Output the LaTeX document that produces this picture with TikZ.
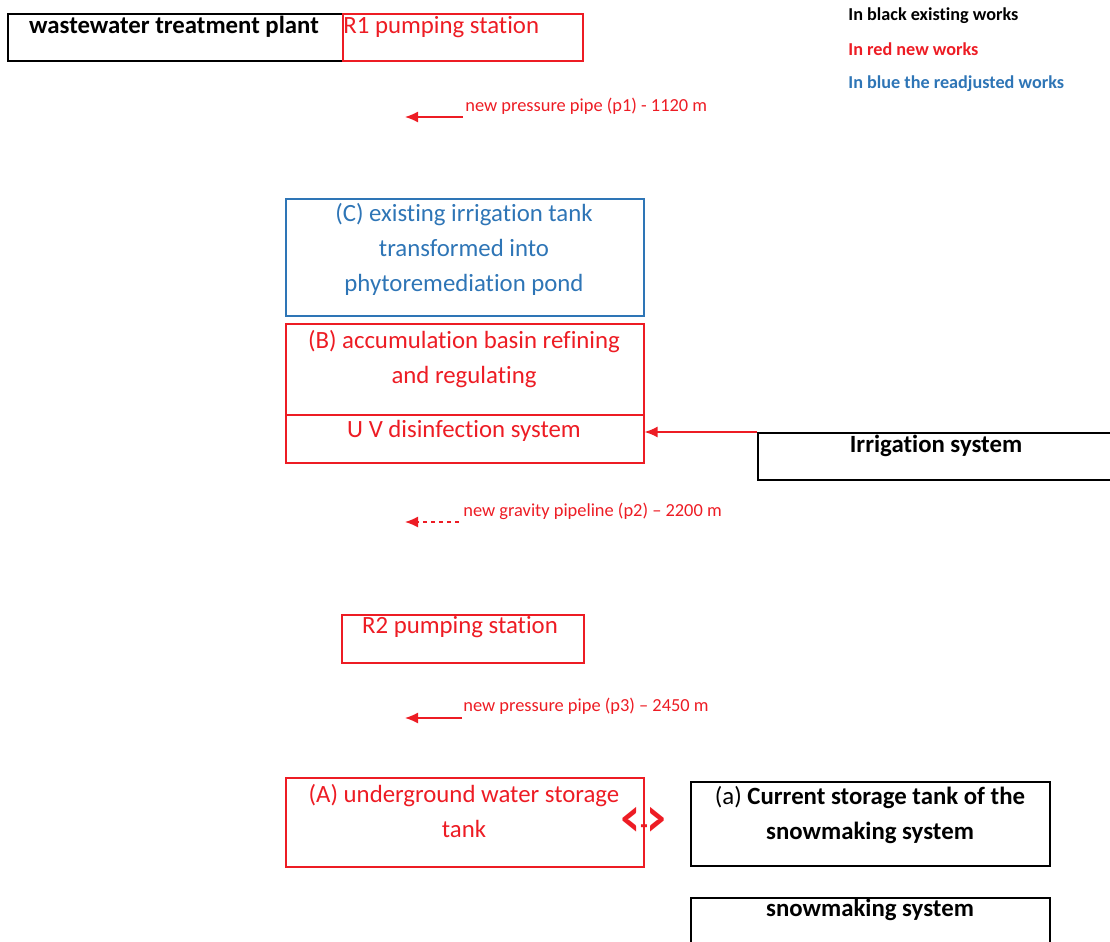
\documentclass[tikz,border=0pt]{standalone}
\usepackage{fontspec}
\setmainfont[Ligatures=NoCommon]{Carlito}
\usetikzlibrary{arrows.meta,positioning}
\definecolor{newred}{RGB}{237,28,36}
\definecolor{adjblue}{RGB}{46,117,182}
\tikzset{
  >={Latex[length=6.5pt,width=5.5pt]},
  box/.style={draw=#1, line width=0.8pt, minimum height=23.5pt, anchor=north west, inner sep=0pt},
  boxtext/.style={font=\fontsize{12.4}{17.4}\selectfont, align=center, anchor=base, inner sep=0pt},
  pipelabel/.style={font=\fontsize{9.2}{11}\selectfont, text=newred, anchor=base west, inner sep=0pt},
  legend/.style={font=\fontsize{9.1}{11}\selectfont\bfseries, anchor=base west, inner sep=0pt},
  pipe/.style={newred, line width=0.7pt, ->},
}

\begin{document}
\begin{tikzpicture}[x=0.5pt, y=-0.5pt]
\useasboundingbox (0,0) rectangle (1110,942);

% boxes
\node[box=black, minimum width=167.5pt] (wwtp) at (7,13) {};
\node[box=newred, minimum width=120pt] (r1) at (342,13) {};
\node[box=adjblue, minimum width=179pt, minimum height=58.5pt] (tankC) at (285,198) {};
\node[box=newred, minimum width=179pt, minimum height=45.5pt] (basinB) at (285,323) {};
\node[box=newred, minimum width=179pt, minimum height=24pt] (uvsys) at (285,414) {};
\node[box=black, minimum width=176.5pt] (irrig) at (757,432) {};
\node[box=newred, minimum width=121pt, minimum height=24pt] (r2) at (341,614) {};
\node[box=newred, minimum width=179pt, minimum height=44.5pt] (tankA) at (285,777) {};
\node[box=black, minimum width=179.5pt, minimum height=42pt] (snowtank) at (690,781) {};
\node[box=black, minimum width=179.5pt, minimum height=26pt] (snowsys) at (690,897) {};

% texts in the boxes (multi-line ones sit on their last line)
\node[boxtext, font=\fontsize{12.4}{17.4}\selectfont\bfseries] (wwtptxt) at (174,33) {wastewater treatment plant};
\node[boxtext, text=newred, anchor=base west] (r1txt) at (343,33) {R1 pumping station};
\node[boxtext, text=adjblue] (tankCtxt) at (464,291) {(C) existing irrigation tank\\ transformed into\\ phytoremediation pond};
\node[boxtext, text=newred] (basinBtxt) at (464,383) {(B) accumulation basin refining\\ and regulating};
\node[boxtext, text=newred] (uvtxt) at (464,437) {U V disinfection system};
\node[boxtext, font=\fontsize{12.4}{17.4}\selectfont\bfseries] (irrigtxt) at (936,452) {Irrigation system};
\node[boxtext, text=newred] (r2txt) at (460,633) {R2 pumping station};
\node[boxtext, text=newred] (tankAtxt) at (464,837) {(A) underground water storage\\ tank};
\node[boxtext] (snowtanktxt) at (870,839) {(a) \textbf{Current storage tank of the}\\ \textbf{snowmaking system}};
\node[boxtext, font=\fontsize{12.4}{17.4}\selectfont\bfseries] (snowsystxt) at (870,916) {snowmaking system};
\node[text=newred, inner sep=0pt, font=\fontsize{28}{30}\selectfont\bfseries, xscale=0.65, transform shape] (swap) at (644,822) {<{\mdseries\fontsize{20}{22}\selectfont -}>};

% legend
\node[legend] (legblack) at (848,20) {In black existing works};
\node[legend, text=newred] (legred) at (848,55) {In red new works};
\node[legend, text=adjblue] (legblue) at (848,89) {In blue the readjusted works};

% pipes
\node[pipelabel] (p1lbl) at (465,112) {new pressure pipe (p1) - 1120 m};
\node[pipelabel] (p2lbl) at (463,516) {new gravity pipeline (p2) -- 2200 m};
\node[pipelabel] (p3lbl) at (463,711) {new pressure pipe (p3) -- 2450 m};
\coordinate (p1s) at (463,117);
\coordinate (p1e) at (405,117);
\coordinate (p2s) at (459,522);
\coordinate (p2e) at (405,522);
\coordinate (p3s) at (462,718);
\coordinate (p3e) at (405,718);
\draw[pipe] (p1s) -- (p1e);
\draw[pipe, dash pattern=on 2pt off 2pt] (p2s) -- (p2e);
\draw[pipe] (p3s) -- (p3e);
\draw[pipe] (irrig.north west) -- (uvsys.east |- irrig.north west);
\end{tikzpicture}
\end{document}
